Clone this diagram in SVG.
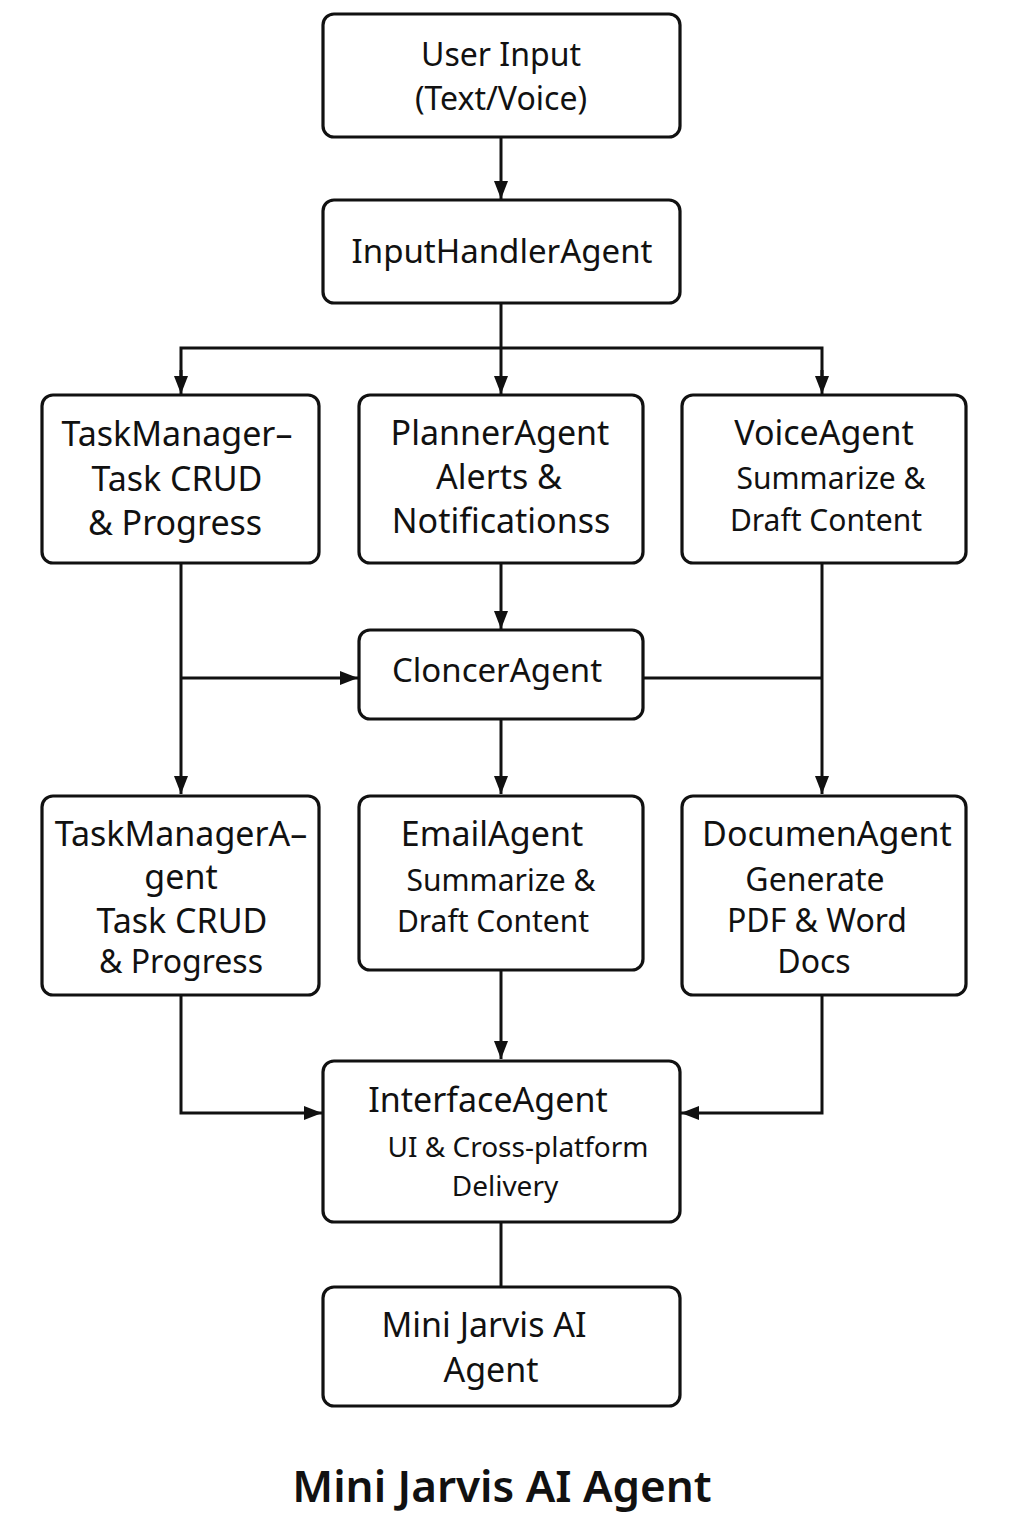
<svg xmlns="http://www.w3.org/2000/svg" width="1024" height="1536" viewBox="0 0 1024 1536">
<defs>
<marker id="arr" viewBox="0 0 18 14" refX="18" refY="7" markerWidth="18" markerHeight="14" markerUnits="userSpaceOnUse" orient="auto">
<path d="M0,0 L18,7 L0,14 z" fill="#111"/>
</marker>
<style>
.box{fill:#fff;stroke:#111;stroke-width:3.2}
.t{font-family:"Noto Sans","DejaVu Sans",sans-serif;fill:#111;text-anchor:middle}
.l{fill:none;stroke:#111;stroke-width:3}
</style>
</defs>
<rect width="1024" height="1536" fill="#fff"/>
<g id="connectors">
<line class="l" x1="501" y1="137" x2="501" y2="199" marker-end="url(#arr)"/>
<polyline class="l" points="501,303 501,348"/>
<polyline class="l" points="181,380 181,348 822,348 822,380"/>
<line class="l" x1="181" y1="370" x2="181" y2="394" marker-end="url(#arr)"/>
<line class="l" x1="501" y1="348" x2="501" y2="394" marker-end="url(#arr)"/>
<line class="l" x1="822" y1="370" x2="822" y2="394" marker-end="url(#arr)"/>
<line class="l" x1="501" y1="563" x2="501" y2="629" marker-end="url(#arr)"/>
<line class="l" x1="181" y1="563" x2="181" y2="794" marker-end="url(#arr)"/>
<line class="l" x1="181" y1="678" x2="358" y2="678" marker-end="url(#arr)"/>
<line class="l" x1="643" y1="678" x2="822" y2="678"/>
<line class="l" x1="822" y1="563" x2="822" y2="794" marker-end="url(#arr)"/>
<line class="l" x1="501" y1="719" x2="501" y2="794" marker-end="url(#arr)"/>
<line class="l" x1="501" y1="970" x2="501" y2="1059" marker-end="url(#arr)"/>
<polyline class="l" points="181,995 181,1113 322,1113" marker-end="url(#arr)"/>
<polyline class="l" points="822,995 822,1113 681,1113" marker-end="url(#arr)"/>
<line class="l" x1="501" y1="1222" x2="501" y2="1287"/>
</g>
<g id="userInput">
<rect class="box" x="323" y="14" width="357" height="123" rx="11"/>
<text class="t" x="501" y="66" font-size="32">User Input</text>
<text class="t" x="501" y="110" font-size="32">(Text/Voice)</text>
</g>
<g id="inputHandler">
<rect class="box" x="323" y="200" width="357" height="103" rx="11"/>
<text class="t" x="502" y="263" font-size="33">InputHandlerAgent</text>
</g>
<g id="taskManager1">
<rect class="box" x="42" y="395" width="277" height="168" rx="11"/>
<text class="t" x="177" y="446" font-size="34">TaskManager–</text>
<text class="t" x="177" y="491" font-size="34">Task CRUD</text>
<text class="t" x="175" y="535" font-size="34">&amp; Progress</text>
</g>
<g id="planner">
<rect class="box" x="359" y="395" width="284" height="168" rx="11"/>
<text class="t" x="500" y="445" font-size="34">PlannerAgent</text>
<text class="t" x="499" y="489" font-size="34">Alerts &amp;</text>
<text class="t" x="501" y="533" font-size="34">Notificationss</text>
</g>
<g id="voice">
<rect class="box" x="682" y="395" width="284" height="168" rx="11"/>
<text class="t" x="824" y="445" font-size="34">VoiceAgent</text>
<text class="t" x="831" y="489" font-size="30">Summarize &amp;</text>
<text class="t" x="826" y="531" font-size="30">Draft Content</text>
</g>
<g id="cloncer">
<rect class="box" x="359" y="630" width="284" height="89" rx="11"/>
<text class="t" x="497" y="682" font-size="33">CloncerAgent</text>
</g>
<g id="taskManager2">
<rect class="box" x="42" y="796" width="277" height="199" rx="11"/>
<text class="t" x="181" y="846" font-size="34">TaskManagerA–</text>
<text class="t" x="181" y="889" font-size="34">gent</text>
<text class="t" x="182" y="933" font-size="34">Task CRUD</text>
<text class="t" x="181" y="973" font-size="32">&amp; Progress</text>
</g>
<g id="email">
<rect class="box" x="359" y="796" width="284" height="174" rx="11"/>
<text class="t" x="492" y="846" font-size="34">EmailAgent</text>
<text class="t" x="501" y="891" font-size="30">Summarize &amp;</text>
<text class="t" x="493" y="932" font-size="30">Draft Content</text>
</g>
<g id="document">
<rect class="box" x="682" y="796" width="284" height="199" rx="11"/>
<text class="t" x="827" y="846" font-size="34">DocumenAgent</text>
<text class="t" x="815" y="891" font-size="32">Generate</text>
<text class="t" x="817" y="932" font-size="32">PDF &amp; Word</text>
<text class="t" x="814" y="973" font-size="32">Docs</text>
</g>
<g id="interface">
<rect class="box" x="323" y="1061" width="357" height="161" rx="11"/>
<text class="t" x="488" y="1112" font-size="34">InterfaceAgent</text>
<text class="t" x="518" y="1157" font-size="28">UI &amp; Cross-platform</text>
<text class="t" x="505" y="1196" font-size="28">Delivery</text>
</g>
<g id="miniJarvis">
<rect class="box" x="323" y="1287" width="357" height="119" rx="11"/>
<text class="t" x="484" y="1337" font-size="34">Mini Jarvis AI</text>
<text class="t" x="491" y="1382" font-size="34">Agent</text>
</g>
<text class="t" x="502" y="1502" font-size="44" font-weight="600">Mini Jarvis AI Agent</text>
</svg>
